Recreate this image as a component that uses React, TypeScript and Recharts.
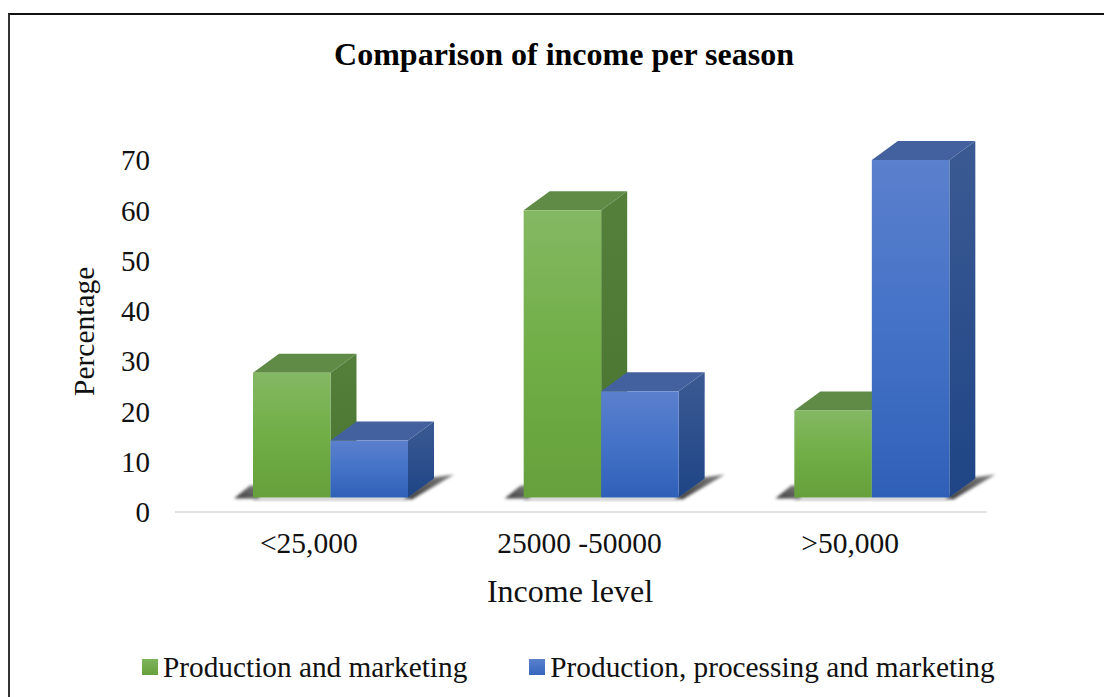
import React from "react";
import { Bar, BarChart, Legend, XAxis, YAxis } from "recharts";

const categories = ["<25,000", "25000 -50000", ">50,000"];
const marketing = [27.7, 60, 20.2];
const processing = [14.2, 24, 70];
const yTicks = [0, 10, 20, 30, 40, 50, 60, 70];

const data = categories.map((income, i) => ({
  income,
  marketing: marketing[i],
  processing: processing[i],
}));

const SERIF = '"Liberation Serif", "Times New Roman", serif';

// block depth and how far the blocks sit from the axis plane
const DEPTH_X = 26;
const DEPTH_Y = 19;
const SHIFT_X = 20;
const FLOOR_Y = 14.5;

const palettes = {
  green: {
    front: "url(#greenFront)",
    top: "#5f8b47",
    side: "url(#greenSide)",
    legend: "linear-gradient(#7fb55d, #66a03c)",
  },
  blue: {
    front: "url(#blueFront)",
    top: "#44619f",
    side: "url(#blueSide)",
    legend: "linear-gradient(#5a80cd, #3566bd)",
  },
};

type BoxProps = {
  x?: number;
  y?: number;
  width?: number;
  height?: number;
  tone: "green" | "blue";
};

function Box3D({ x = 0, y = 0, width = 0, height = 0, tone }: BoxProps) {
  const left = x + SHIFT_X;
  const right = left + width;
  const bottom = y + height - FLOOR_Y;
  const colors = palettes[tone];

  const topFace = [
    [left, y],
    [left + DEPTH_X, y - DEPTH_Y],
    [right + DEPTH_X, y - DEPTH_Y],
    [right, y],
  ];
  const sideFace = [
    [right, y],
    [right + DEPTH_X, y - DEPTH_Y],
    [right + DEPTH_X, bottom - DEPTH_Y],
    [right, bottom],
  ];
  const shadow =
    tone === "green"
      ? [
          [left - 19, bottom + 1],
          [left - 3, bottom - 12],
          [left + 6, bottom - 12],
          [left + 6, bottom + 1],
        ]
      : [
          [right - 4, bottom + 1],
          [right + DEPTH_X - 2, bottom - DEPTH_Y - 1],
          [right + DEPTH_X + 20, bottom - 23],
          [right + 4, bottom + 2],
        ];
  const pts = (list: number[][]) => list.map((p) => p.join(",")).join(" ");

  return (
    <g>
      <polygon points={pts(shadow)} fill="url(#floorShadow)" filter="url(#soft)" />
      <rect x={left} y={bottom} width={width} height={3} fill="#8a8a8a" opacity={0.5} filter="url(#soft)" />
      <polygon points={pts(sideFace)} fill={colors.side} />
      <polygon points={pts(topFace)} fill={colors.top} />
      <rect x={left} y={y} width={width} height={bottom - y} fill={colors.front} />
    </g>
  );
}

function LegendRow({ payload = [] }: { payload?: any[] }) {
  return (
    <div style={{ display: "flex", fontFamily: SERIF, fontSize: 29.3, color: "#111", lineHeight: "34px" }}>
      {payload.map((entry) => (
        <div key={entry.value} style={{ display: "flex", alignItems: "center", marginRight: 62 }}>
          <span
            style={{
              width: 16,
              height: 16,
              marginRight: 5,
              background: palettes[entry.dataKey === "marketing" ? "green" : "blue"].legend,
            }}
          />
          {entry.value}
        </div>
      ))}
    </div>
  );
}

export default function App() {
  return (
    <div style={{ position: "absolute", left: 0, top: 0, width: 1104, height: 697, background: "#fff", overflow: "hidden" }}>
      {/* frame, open on the right and bottom */}
      <div
        style={{
          position: "absolute",
          left: 8,
          top: 13,
          width: 1096,
          height: 684,
          boxSizing: "border-box",
          borderTop: "2.5px solid #111",
          borderLeft: "2.5px solid #333",
        }}
      />
      <div
        style={{
          position: "absolute",
          left: 0,
          top: 35,
          width: 1128,
          textAlign: "center",
          fontFamily: SERIF,
          fontSize: 32,
          fontWeight: 700,
          color: "#000",
          lineHeight: "38px",
        }}
      >
        Comparison of income per season
      </div>
      <BarChart
        width={1104}
        height={697}
        data={data}
        barSize={77.5}
        barGap={0}
        margin={{ top: 160, right: 117, bottom: 121, left: 115 }}
        style={{ position: "absolute", left: 0, top: 0 }}
      >
        <defs>
          <linearGradient id="greenFront" x1="0" y1="0" x2="0" y2="1">
            <stop offset="0%" stopColor="#84b863" />
            <stop offset="50%" stopColor="#70ae46" />
            <stop offset="100%" stopColor="#66a03c" />
          </linearGradient>
          <linearGradient id="greenSide" x1="0" y1="0" x2="0" y2="1">
            <stop offset="0%" stopColor="#55803c" />
            <stop offset="100%" stopColor="#487430" />
          </linearGradient>
          <linearGradient id="blueFront" x1="0" y1="0" x2="0" y2="1">
            <stop offset="0%" stopColor="#5b80cd" />
            <stop offset="50%" stopColor="#4472c7" />
            <stop offset="100%" stopColor="#2f60b8" />
          </linearGradient>
          <linearGradient id="blueSide" x1="0" y1="0" x2="0" y2="1">
            <stop offset="0%" stopColor="#3b5a93" />
            <stop offset="100%" stopColor="#1f4586" />
          </linearGradient>
          <linearGradient id="floorShadow" x1="0" y1="1" x2="1" y2="0">
            <stop offset="0%" stopColor="#3a3a3a" />
            <stop offset="100%" stopColor="#808080" />
          </linearGradient>
          <filter id="soft" x="-30%" y="-50%" width="160%" height="200%">
            <feGaussianBlur stdDeviation="1.8" />
          </filter>
        </defs>
        <XAxis
          dataKey="income"
          axisLine={{ stroke: "#d9d9d9", strokeWidth: 1.5 }}
          tickLine={false}
          tickMargin={14}
          tick={{ fontFamily: SERIF, fontSize: 29.5, fill: "#111", dx: -1.5 }}
          label={{
            value: "Income level",
            position: "insideBottom",
            offset: -60,
            dx: -11,
            fontFamily: SERIF,
            fontSize: 32,
            fill: "#111",
          }}
          interval={0}
        />
        <YAxis
          width={60}
          domain={[0, 70]}
          ticks={yTicks}
          axisLine={false}
          tickLine={false}
          tickMargin={19}
          tick={{ fontFamily: SERIF, fontSize: 29, fill: "#111" }}
          label={{
            value: "Percentage",
            angle: -90,
            position: "insideLeft",
            dx: -36,
            dy: 60,
            fontFamily: SERIF,
            fontSize: 29.5,
            fill: "#111",
          }}
        />
        <Legend
          verticalAlign="bottom"
          align="left"
          content={<LegendRow />}
          wrapperStyle={{ left: 142, top: 650, width: 950 }}
        />
        <Bar
          dataKey="marketing"
          name="Production and marketing"
          fill="#70ad47"
          isAnimationActive={false}
          shape={(props: any) => <Box3D {...props} tone="green" />}
        />
        <Bar
          dataKey="processing"
          name="Production, processing and marketing"
          fill="#4472c4"
          isAnimationActive={false}
          shape={(props: any) => <Box3D {...props} tone="blue" />}
        />
      </BarChart>
    </div>
  );
}
